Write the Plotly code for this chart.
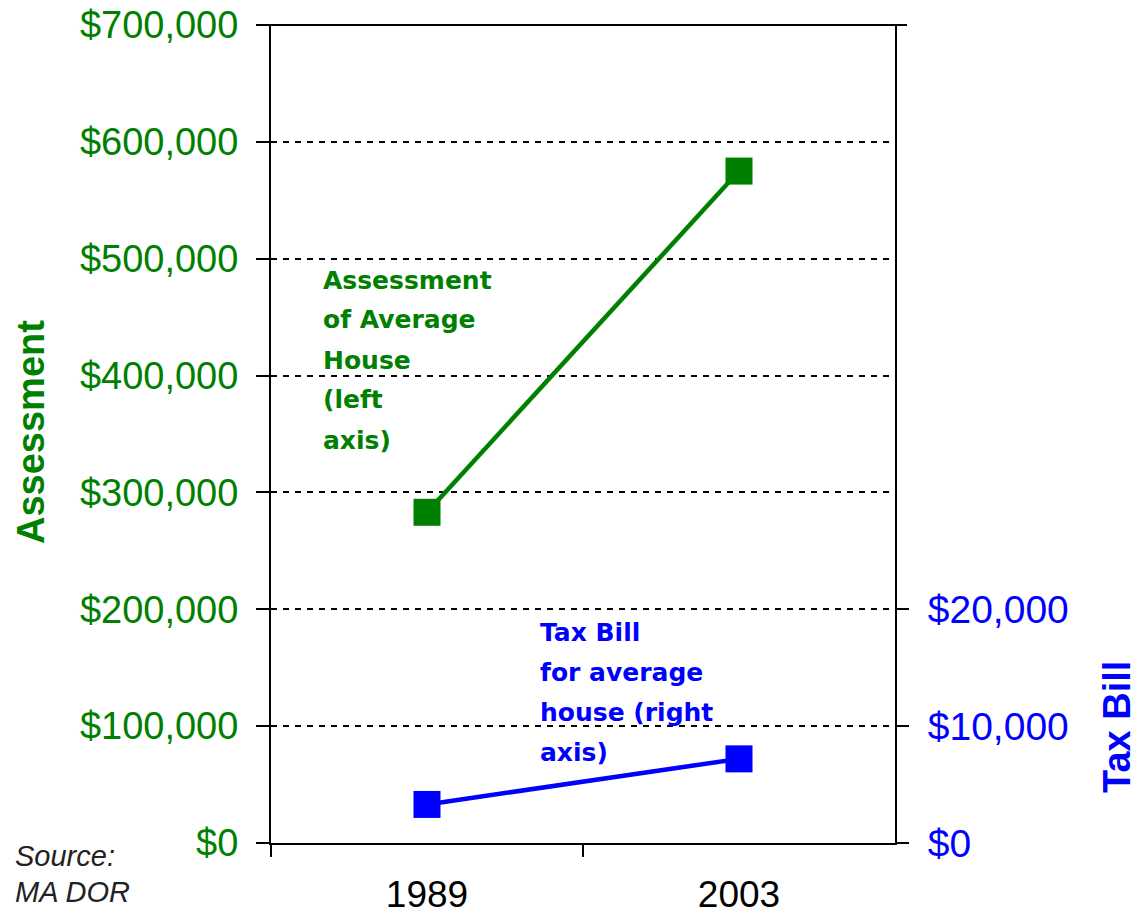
import plotly.graph_objects as go

years = ["1989", "2003"]
assessment = [283000, 575000]
tax_bill = [3300, 7200]

left_ticks = [0, 100000, 200000, 300000, 400000, 500000, 600000, 700000]
left_ticktext = ["$0", "$100,000", "$200,000", "$300,000", "$400,000",
                 "$500,000", "$600,000", "$700,000"]
right_ticks = [0, 10000, 20000]
right_ticktext = ["$0", "$10,000", "$20,000"]

green_label = ["Assessment", "of Average", "House", "(left", "axis)"]
blue_label = ["Tax Bill", "for average", "house (right", "axis)"]
source_label = ["Source:", "MA DOR"]

W, H = 1142, 917
GREEN = "#008000"
BLUE = "#0000FF"


def px(x):
    return x / W


def py(y):
    return 1 - y / H


fig = go.Figure()
fig.add_trace(go.Scatter(
    x=years, y=assessment, mode="lines+markers",
    line=dict(color=GREEN, width=4.5),
    marker=dict(symbol="square", size=27, color=GREEN),
    yaxis="y", showlegend=False, hoverinfo="skip"))
fig.add_trace(go.Scatter(
    x=years, y=tax_bill, mode="lines+markers",
    line=dict(color=BLUE, width=4.5),
    marker=dict(symbol="square", size=27, color=BLUE),
    yaxis="y2", showlegend=False, hoverinfo="skip"))

annotations = []
for i, t in enumerate(green_label):
    annotations.append(dict(
        x=px(321), y=py(280 + 40 * i), xref="paper", yref="paper",
        text=t, showarrow=False, xanchor="left", yanchor="middle",
        font=dict(family="DejaVu Sans", size=25, color=GREEN, weight="bold")))
for i, t in enumerate(blue_label):
    annotations.append(dict(
        x=px(538), y=py(632 + 40 * i), xref="paper", yref="paper",
        text=t, showarrow=False, xanchor="left", yanchor="middle",
        font=dict(family="DejaVu Sans", size=25, color=BLUE, weight="bold")))
for i, t in enumerate(source_label):
    annotations.append(dict(
        x=px(13), y=py(856 + 36 * i), xref="paper", yref="paper",
        text="<i>" + t + "</i>", showarrow=False, xanchor="left", yanchor="middle",
        font=dict(family="Liberation Sans", size=29, color="#222222")))
annotations.append(dict(
    x=px(31), y=py(432), xref="paper", yref="paper", text="<b>Assessment</b>",
    textangle=-90, showarrow=False, xanchor="center", yanchor="middle",
    font=dict(family="Liberation Sans", size=38, color=GREEN)))
annotations.append(dict(
    x=px(1117), y=py(727), xref="paper", yref="paper", text="<b>Tax Bill</b>",
    textangle=-90, showarrow=False, xanchor="center", yanchor="middle",
    font=dict(family="Liberation Sans", size=38, color=BLUE)))

shapes = [
    dict(type="line", xref="paper", yref="paper",
         x0=px(258), x1=px(907), y0=py(25), y1=py(25),
         line=dict(color="black", width=2)),
]

fig.update_layout(
    width=W, height=H,
    margin=dict(l=0, r=0, t=0, b=0),
    paper_bgcolor="white", plot_bgcolor="white",
    font=dict(family="Liberation Sans"),
    xaxis=dict(
        type="category", categoryorder="array", categoryarray=years,
        range=[-0.5, 1.5], domain=[px(271), px(895)],
        tickson="boundaries", ticks="outside", ticklen=12, tickwidth=2, tickcolor="black",
        showline=True, linecolor="black", linewidth=2, showgrid=False,
        tickfont=dict(family="Liberation Sans", size=37, color="black"),
        ticklabelstandoff=18, automargin=False, fixedrange=True),
    yaxis=dict(
        range=[0, 700000], domain=[1 - 843 / H, 1 - 25 / H],
        tickvals=left_ticks, ticktext=left_ticktext,
        ticks="outside", ticklen=13, tickwidth=2, tickcolor="black",
        showline=True, linecolor="black", linewidth=2,
        showgrid=True, gridcolor="black", gridwidth=1.5, griddash="6px,6px",
        zeroline=False,
        tickfont=dict(family="Liberation Sans", size=38, color=GREEN),
        ticklabelstandoff=10, automargin=False, fixedrange=True),
    yaxis2=dict(
        overlaying="y", side="right", anchor="x",
        range=[0, 70000], tickvals=right_ticks, ticktext=right_ticktext,
        ticks="outside", ticklen=12, tickwidth=2, tickcolor="black",
        showline=True, linecolor="black", linewidth=2,
        showgrid=False, zeroline=False,
        tickfont=dict(family="Liberation Sans", size=39, color=BLUE),
        ticklabelstandoff=11, automargin=False, fixedrange=True),
    annotations=annotations, shapes=shapes,
)

fig.write_html(
    "out.html",
    config={"displayModeBar": False},
    post_script="document.body.style.margin='0';document.body.style.padding='0';",
)
